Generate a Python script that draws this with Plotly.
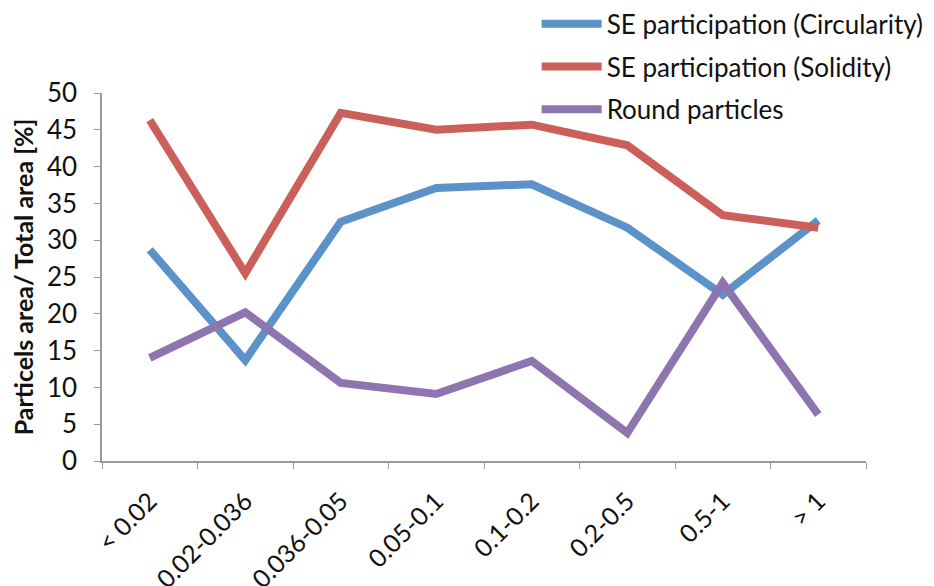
import plotly.graph_objects as go

categories = ["< 0.02", "0.02-0.036", "0.036-0.05", "0.05-0.1", "0.1-0.2", "0.2-0.5", "0.5-1", "> 1"]
circularity = [28.7, 13.7, 32.5, 37.1, 37.6, 31.7, 22.6, 32.7]
solidity = [46.3, 25.5, 47.3, 45.0, 45.7, 42.9, 33.4, 31.7]
round_particles = [14.0, 20.2, 10.6, 9.1, 13.6, 3.8, 24.2, 6.3]
series_names = ["SE participation (Circularity)", "SE participation (Solidity)", "Round particles"]
colors = ["#5B92C8", "#CB605A", "#8E75B0"]

FONT = "Lato, 'Open Sans', sans-serif"

fig = go.Figure()
for i, (name, vals, col) in enumerate(zip(series_names, [circularity, solidity, round_particles], colors)):
    fig.add_trace(go.Scatter(
        x=categories, y=vals, name=name, mode="lines",
        line=dict(color=col, width=8),
        legendgroup=f"g{i}",
    ))

fig.update_layout(
    width=934, height=586,
    margin=dict(l=94, r=76, t=85, b=133, autoexpand=False),
    plot_bgcolor="white", paper_bgcolor="white",
    font=dict(family=FONT, size=25, color="#111"),
    showlegend=True,
    legend=dict(
        xref="container", yref="paper",
        x=0.566, y=1.252, xanchor="left", yanchor="top",
        font=dict(family=FONT, size=26, color="#111"),
        tracegroupgap=6, itemwidth=60,
        bgcolor="rgba(0,0,0,0)",
    ),
    xaxis=dict(
        type="category", tickson="boundaries", ticks="outside", ticklen=6,
        tickcolor="#999", showline=True, linecolor="#999", linewidth=1.5,
        showgrid=False, tickangle=-45, tickfont=dict(size=25),
        range=[-0.5, 7.5], automargin=False, ticklabelstandoff=14,
    ),
    yaxis=dict(
        range=[0, 50], dtick=5, ticks="outside", ticklen=6, tickcolor="#999",
        showline=True, linecolor="#999", linewidth=1.5, showgrid=False,
        zeroline=False, tickfont=dict(size=26), automargin=False,
        ticklabelstandoff=12,
        title=dict(text="<b>Particels area/ Total area [%]</b>", font=dict(size=25), standoff=20),
    ),
)

fig.write_html("out.html")
